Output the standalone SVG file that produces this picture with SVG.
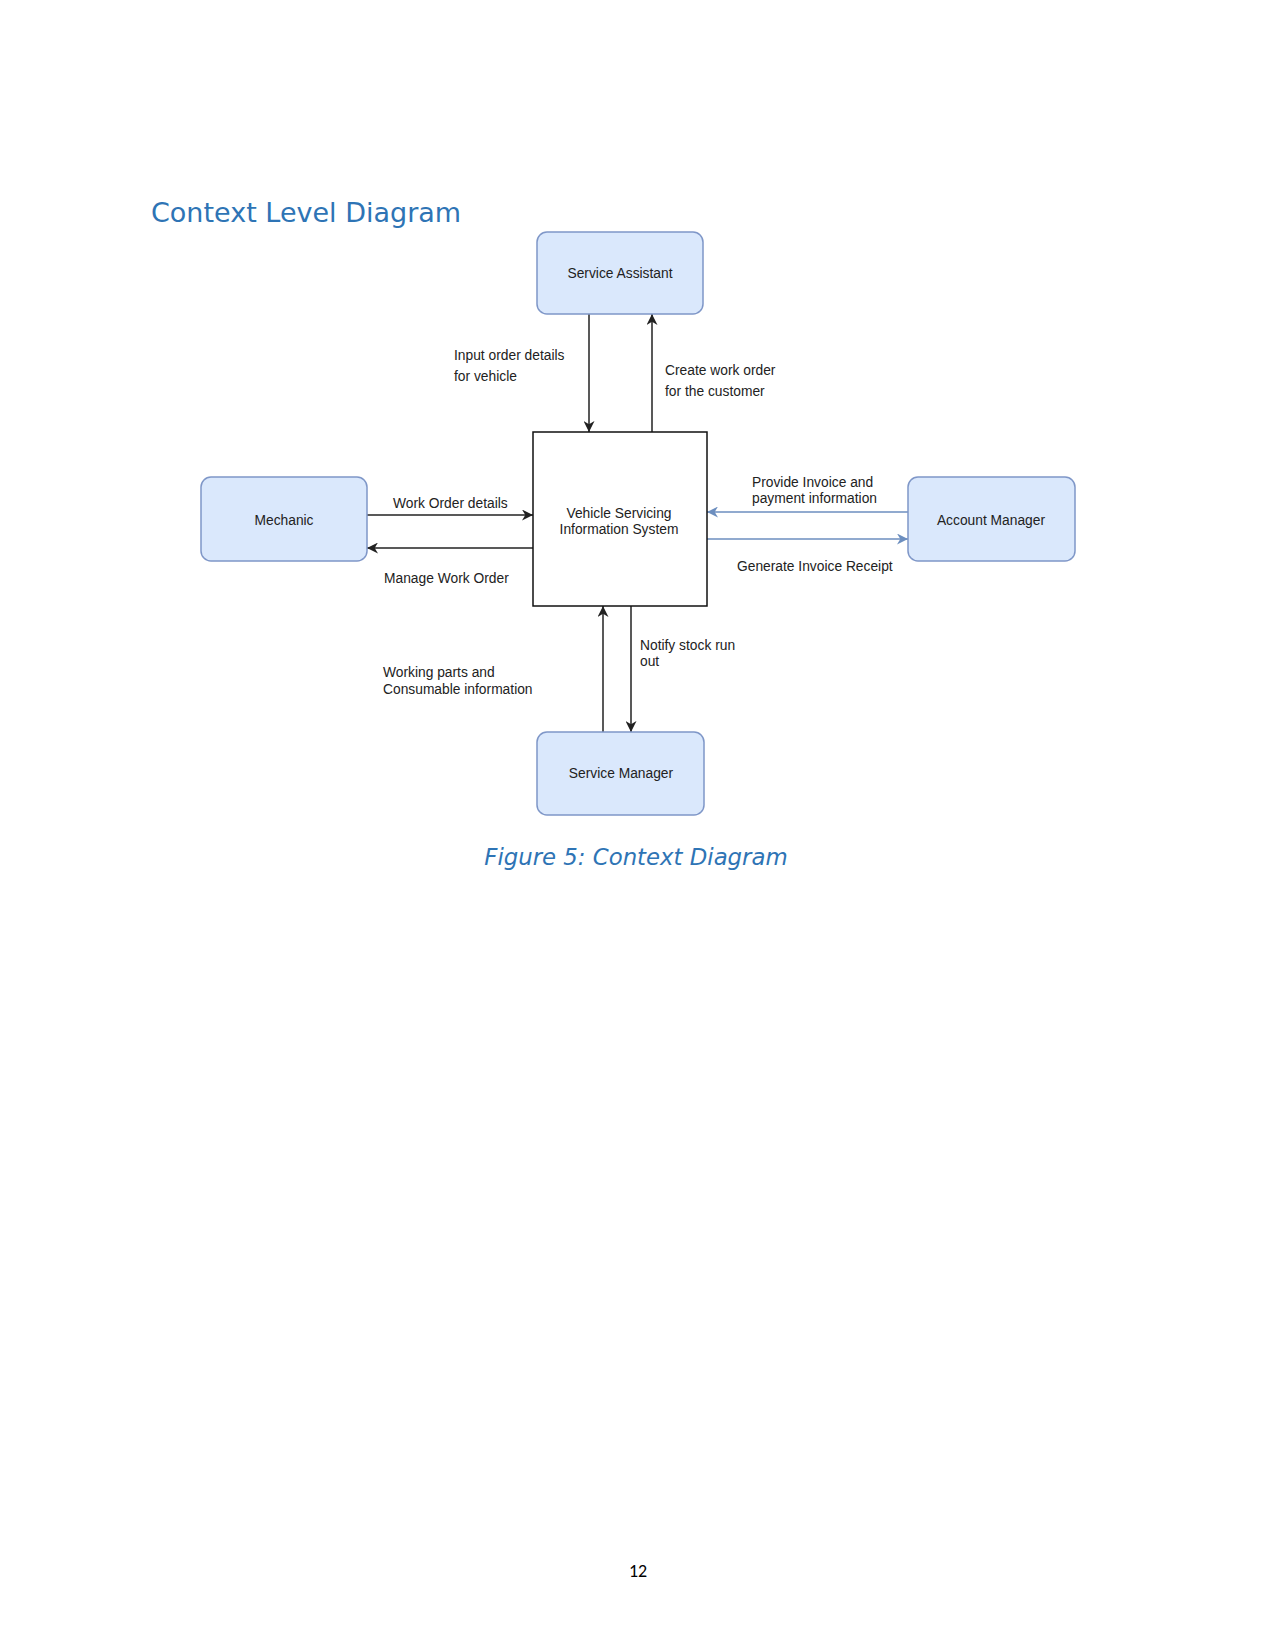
<svg xmlns="http://www.w3.org/2000/svg" width="1275" height="1650" viewBox="0 0 1275 1650">
<style>
.ent{fill:#dae8fc;stroke:#7f97c8;stroke-width:1.5}
.sys{fill:#ffffff;stroke:#111111;stroke-width:1.5}
.lbl{font-family:"Liberation Sans",Arial,sans-serif;font-size:13.8px;fill:#222}
.nl{font-family:"Liberation Sans",Arial,sans-serif;font-size:13.8px;fill:#222;text-anchor:middle}
.blk{stroke:#222;stroke-width:1.5;fill:none;marker-end:url(#ab)}
.blu{stroke:#6c8ebf;stroke-width:1.5;fill:none;marker-end:url(#au)}
.title{font-family:"DejaVu Sans",Verdana,sans-serif;font-size:27px;fill:#2e74b5}
.cap{font-family:"DejaVu Sans",Verdana,sans-serif;font-size:22.8px;font-style:italic;fill:#2e74b5;text-anchor:middle}
</style>
<defs>
<marker id="ab" viewBox="0 0 10 10" refX="10" refY="5" markerWidth="11" markerHeight="11" markerUnits="userSpaceOnUse" orient="auto"><path d="M0,0 L10,5 L0,10 L3,5 z" fill="#222"/></marker>
<marker id="au" viewBox="0 0 10 10" refX="10" refY="5" markerWidth="11" markerHeight="11" markerUnits="userSpaceOnUse" orient="auto"><path d="M0,0 L10,5 L0,10 L3,5 z" fill="#6c8ebf"/></marker>
</defs>
<rect width="1275" height="1650" fill="#ffffff"/>
<text class="title" x="151" y="222">Context Level Diagram</text>
<g id="connectors">
<path class="blk" d="M589,314 V432"/>
<path class="blk" d="M652,432 V314"/>
<path class="blk" d="M367,515 H533"/>
<path class="blk" d="M533,548 H367"/>
<path class="blu" d="M908,512 H707"/>
<path class="blu" d="M707,539 H908"/>
<path class="blk" d="M603,732 V606"/>
<path class="blk" d="M631,606 V732"/>
<text class="lbl" x="454" y="360">Input order details</text>
<text class="lbl" x="454" y="381">for vehicle</text>
<text class="lbl" x="665" y="375">Create work order</text>
<text class="lbl" x="665" y="396">for the customer</text>
<text class="lbl" x="393" y="508">Work Order details</text>
<text class="lbl" x="384" y="583">Manage Work Order</text>
<text class="lbl" x="752" y="487">Provide Invoice and</text>
<text class="lbl" x="752" y="503">payment information</text>
<text class="lbl" x="737" y="571">Generate Invoice Receipt</text>
<text class="lbl" x="640" y="650">Notify stock run</text>
<text class="lbl" x="640" y="666">out</text>
<text class="lbl" x="383" y="677">Working parts and</text>
<text class="lbl" x="383" y="694">Consumable information</text>
</g>
<g id="service-assistant"><rect class="ent" x="537" y="232" width="166" height="82" rx="10"/><text class="nl" x="620" y="278">Service Assistant</text></g>
<g id="vsis"><rect class="sys" x="533" y="432" width="174" height="174"/><text class="nl" x="619" y="518">Vehicle Servicing</text><text class="nl" x="619" y="534">Information System</text></g>
<g id="mechanic"><rect class="ent" x="201" y="477" width="166" height="84" rx="10"/><text class="nl" x="284" y="525">Mechanic</text></g>
<g id="account-manager"><rect class="ent" x="908" y="477" width="167" height="84" rx="10"/><text class="nl" x="991" y="525">Account Manager</text></g>
<g id="service-manager"><rect class="ent" x="537" y="732" width="167" height="83" rx="10"/><text class="nl" x="621" y="778">Service Manager</text></g>
<text class="cap" x="636" y="865">Figure 5: Context Diagram</text>
<text x="638" y="1577" font-family="Carlito,'Liberation Sans',sans-serif" font-size="18" fill="#000" text-anchor="middle">12</text>
</svg>
